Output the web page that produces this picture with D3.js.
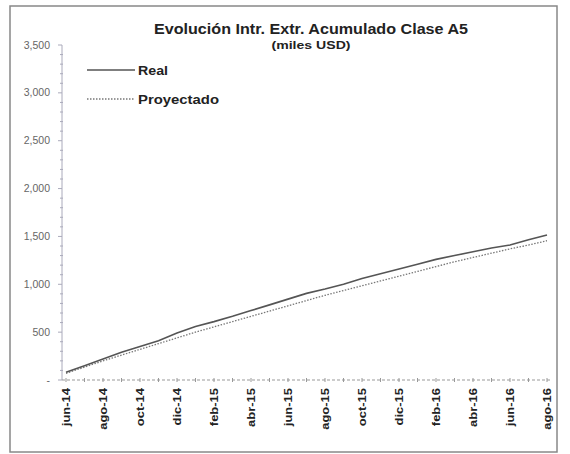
<!DOCTYPE html>
<html><head><meta charset="utf-8">
<script src="https://cdn.jsdelivr.net/npm/d3@7"></script>
<style>body{margin:0;background:#fff}</style></head>
<body><svg id="c" width="570" height="454"></svg>
<script>
const months = ["jun-14","jul-14","ago-14","sep-14","oct-14","nov-14","dic-14","ene-15","feb-15","mar-15","abr-15","may-15","jun-15","jul-15","ago-15","sep-15","oct-15","nov-15","dic-15","ene-16","feb-16","mar-16","abr-16","may-16","jun-16","jul-16","ago-16"];
const real = [80,150,220,290,350,410,490,560,610,665,725,785,845,905,950,1000,1060,1110,1160,1210,1260,1300,1340,1380,1410,1465,1515];
const proyectado = [70,135,200,260,320,380,440,500,555,610,665,720,775,830,885,935,985,1035,1085,1135,1185,1235,1280,1325,1370,1410,1455];
const yTicks = [0,500,1000,1500,2000,2500,3000,3500];
const title = "Evolución Intr. Extr. Acumulado Clase A5";
const subtitle = "(miles USD)";

const svg = d3.select("#c");
const font = "Arial, 'Liberation Sans', sans-serif";
// frame
svg.append("rect").attr("x",10).attr("y",6).attr("width",547).attr("height",446)
  .attr("fill","none").attr("stroke","#888").attr("stroke-width",1.5);

const x = d3.scalePoint().domain(months).range([66,547]);
const y = d3.scaleLinear().domain([0,3500]).range([380,45]);

// y axis
const g = svg.append("g");
g.append("line").attr("x1",62).attr("x2",62).attr("y1",y(3500)).attr("y2",y(0)).attr("stroke","#aab").attr("stroke-width",1);
d3.range(0,3501,100).forEach(v=>{
  const major = v%500===0;
  g.append("line").attr("x1",major?58:60).attr("x2",major?62:63).attr("y1",y(v)).attr("y2",y(v)).attr("stroke","#aab");
});
g.selectAll("text.yl").data(yTicks).join("text").attr("class","yl")
  .attr("x",50).attr("y",d=>y(d)+3.5).attr("text-anchor","end")
  .attr("font-family",font).attr("font-size",10.5).attr("fill","#666")
  .text(d=>d===0?"-":d3.format(",")(d));

// x axis
g.append("line").attr("x1",62).attr("x2",552).attr("y1",y(0)).attr("y2",y(0)).attr("stroke","#999").attr("stroke-dasharray","3,2");
months.forEach(m=>{
  g.append("line").attr("x1",x(m)).attr("x2",x(m)).attr("y1",y(0)-2).attr("y2",y(0)+2).attr("stroke","#999");
});
g.selectAll("text.xl").data(months.filter((d,i)=>i%2===0)).join("text").attr("class","xl")
  .attr("transform",d=>`translate(${x(d)+4},388) rotate(-90) scale(1.18,1)`)
  .attr("text-anchor","end").attr("font-family",font).attr("font-size",11).attr("font-weight","bold").attr("fill","#222")
  .text(d=>d);

// lines
const line = d3.line().x((d,i)=>x(months[i])).y(d=>y(d));
svg.append("path").datum(proyectado).attr("d",line).attr("fill","none").attr("stroke","#777").attr("stroke-width",1.3).attr("stroke-dasharray","1.5,1.5");
svg.append("path").datum(real).attr("d",line).attr("fill","none").attr("stroke","#555").attr("stroke-width",1.6);

// title
svg.append("text").attr("x",311).attr("y",34).attr("text-anchor","middle").attr("font-family",font).attr("font-size",14.5).attr("font-weight","bold").attr("fill","#222")
  .attr("textLength",314).attr("lengthAdjust","spacingAndGlyphs").text(title);
svg.append("text").attr("x",311).attr("y",49).attr("text-anchor","middle").attr("font-family",font).attr("font-size",11).attr("font-weight","bold").attr("fill","#222")
  .attr("textLength",79).attr("lengthAdjust","spacingAndGlyphs").text(subtitle);

// legend
const leg = [{n:"Real",dash:null,c:"#555",w:1.6,yy:70,tl:30},{n:"Proyectado",dash:"1.5,1.5",c:"#777",w:1.3,yy:99,tl:81}];
leg.forEach(l=>{
  svg.append("line").attr("x1",87).attr("x2",135).attr("y1",l.yy).attr("y2",l.yy).attr("stroke",l.c).attr("stroke-width",l.w).attr("stroke-dasharray",l.dash);
  svg.append("text").attr("x",138).attr("y",l.yy+4.5).attr("font-family",font).attr("font-size",13.5).attr("font-weight","bold").attr("fill","#222")
    .attr("textLength",l.tl).attr("lengthAdjust","spacingAndGlyphs").text(l.n);
});
</script></body></html>
